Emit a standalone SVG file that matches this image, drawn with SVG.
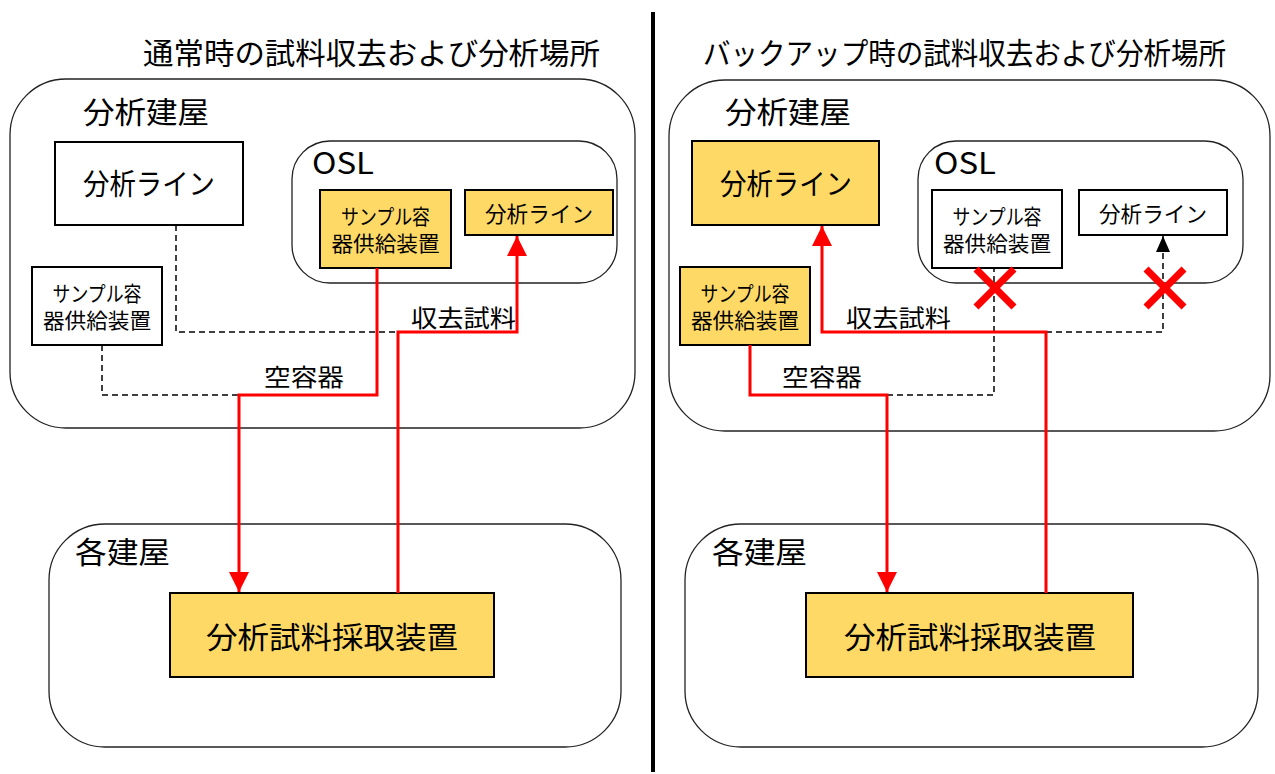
<svg xmlns="http://www.w3.org/2000/svg" width="1275" height="774" viewBox="0 0 1275 774">
<style>
text{font-family:"Noto Sans CJK JP","Noto Sans",sans-serif;fill:#000}
.area{fill:#fff;stroke:#222;stroke-width:1.3}
.box{fill:#fff;stroke:#000;stroke-width:2}
.yel{fill:#FFD966;stroke:#000;stroke-width:2}
.red{fill:none;stroke:#FF0000;stroke-width:3}
.dash{fill:none;stroke:#000;stroke-width:1.5;stroke-dasharray:6 4}
.cross{stroke:#FF0000;stroke-width:7}
.t30{font-size:30px}
.t29{font-size:29px}
.t24{font-size:24px}
.t22{font-size:22px}
.t21{font-size:21px}
</style>
<defs>
<marker id="ar" markerUnits="userSpaceOnUse" markerWidth="22" markerHeight="20" refX="20" refY="10" orient="auto">
<path d="M0,0 L20,10 L0,20 Z" fill="#FF0000"/>
</marker>
<marker id="ab" markerUnits="userSpaceOnUse" markerWidth="18" markerHeight="14" refX="16" refY="7" orient="auto">
<path d="M0,0 L16,7 L0,14 Z" fill="#000"/>
</marker>
</defs>
<rect width="1275" height="774" fill="#fff"/>

<line id="divider" x1="653" y1="12" x2="653" y2="772" stroke="#000" stroke-width="4"/>

<g id="title-left"><text class="t30" x="143" y="64" textLength="457" lengthAdjust="spacingAndGlyphs">通常時の試料収去および分析場所</text></g>
<g id="title-right"><text class="t30" x="703" y="64" textLength="523" lengthAdjust="spacingAndGlyphs">バックアップ時の試料収去および分析場所</text></g>

<!-- LEFT PANEL -->
<g id="L-analysis-bldg">
<rect class="area" x="10" y="79" width="625" height="349" rx="56"/>
<text class="t30" x="83" y="123" textLength="126" lengthAdjust="spacingAndGlyphs">分析建屋</text>
</g>
<g id="L-osl">
<rect class="area" x="292" y="141" width="325" height="142" rx="38"/>
<text class="t30" x="312" y="174" textLength="62" lengthAdjust="spacingAndGlyphs">OSL</text>
</g>
<g id="L-line-main">
<rect class="box" x="55" y="142" width="188" height="83"/>
<text class="t29" x="149" y="195" text-anchor="middle" textLength="132" lengthAdjust="spacingAndGlyphs">分析ライン</text>
</g>
<g id="L-supply-osl">
<rect class="yel" x="320" y="190" width="131" height="78"/>
<text class="t21" x="385.5" y="224" text-anchor="middle" textLength="89" lengthAdjust="spacingAndGlyphs">サンプル容</text>
<text class="t21" x="385.5" y="251" text-anchor="middle" textLength="108" lengthAdjust="spacingAndGlyphs">器供給装置</text>
</g>
<g id="L-line-osl">
<rect class="yel" x="465" y="190" width="148" height="45"/>
<text class="t22" x="539" y="222" text-anchor="middle" textLength="108" lengthAdjust="spacingAndGlyphs">分析ライン</text>
</g>
<g id="L-supply-main">
<rect class="box" x="32" y="267" width="130" height="78"/>
<text class="t21" x="97" y="301" text-anchor="middle" textLength="89" lengthAdjust="spacingAndGlyphs">サンプル容</text>
<text class="t21" x="97" y="328" text-anchor="middle" textLength="108" lengthAdjust="spacingAndGlyphs">器供給装置</text>
</g>
<g id="L-each-bldg">
<rect class="area" x="49" y="524" width="572" height="223" rx="56"/>
<text class="t30" x="75" y="563" textLength="95" lengthAdjust="spacingAndGlyphs">各建屋</text>
</g>
<g id="L-sampler">
<rect class="yel" x="170" y="593" width="324" height="84"/>
<text class="t30" x="332" y="648" text-anchor="middle" textLength="252" lengthAdjust="spacingAndGlyphs">分析試料採取装置</text>
</g>

<!-- RIGHT PANEL -->
<g id="R-analysis-bldg">
<rect class="area" x="669" y="80" width="601" height="351" rx="56"/>
<text class="t30" x="725" y="123" textLength="126" lengthAdjust="spacingAndGlyphs">分析建屋</text>
</g>
<g id="R-osl">
<rect class="area" x="918" y="141" width="325" height="142" rx="38"/>
<text class="t30" x="934" y="174" textLength="62" lengthAdjust="spacingAndGlyphs">OSL</text>
</g>
<g id="R-line-main">
<rect class="yel" x="692" y="141" width="187" height="84"/>
<text class="t29" x="786" y="195" text-anchor="middle" textLength="132" lengthAdjust="spacingAndGlyphs">分析ライン</text>
</g>
<g id="R-supply-osl">
<rect class="box" x="932" y="190" width="130" height="78"/>
<text class="t21" x="997" y="224" text-anchor="middle" textLength="89" lengthAdjust="spacingAndGlyphs">サンプル容</text>
<text class="t21" x="997" y="251" text-anchor="middle" textLength="108" lengthAdjust="spacingAndGlyphs">器供給装置</text>
</g>
<g id="R-line-osl">
<rect class="box" x="1079" y="190" width="148" height="45"/>
<text class="t22" x="1153" y="222" text-anchor="middle" textLength="108" lengthAdjust="spacingAndGlyphs">分析ライン</text>
</g>
<g id="R-supply-main">
<rect class="yel" x="680" y="267" width="130" height="78"/>
<text class="t21" x="745" y="301" text-anchor="middle" textLength="89" lengthAdjust="spacingAndGlyphs">サンプル容</text>
<text class="t21" x="745" y="328" text-anchor="middle" textLength="108" lengthAdjust="spacingAndGlyphs">器供給装置</text>
</g>
<g id="R-each-bldg">
<rect class="area" x="685" y="524" width="573" height="223" rx="56"/>
<text class="t30" x="712" y="563" textLength="95" lengthAdjust="spacingAndGlyphs">各建屋</text>
</g>
<g id="R-sampler">
<rect class="yel" x="806" y="593" width="327" height="84"/>
<text class="t30" x="970" y="648" text-anchor="middle" textLength="252" lengthAdjust="spacingAndGlyphs">分析試料採取装置</text>
</g>

<g id="connectors">
<!-- left -->
<path class="dash" d="M176,225 V332 H398"/>
<path class="dash" d="M102,345 V395 H239"/>
<path class="red" d="M377,268 V395 H239 V592" marker-end="url(#ar)"/>
<path class="red" d="M398,593 V332 H517 V236" marker-end="url(#ar)"/>
<text class="t24" x="411" y="327" textLength="105" lengthAdjust="spacingAndGlyphs">収去試料</text>
<text class="t24" x="264" y="386" textLength="80" lengthAdjust="spacingAndGlyphs">空容器</text>
<!-- right -->
<path class="dash" d="M887,395 H994 V268"/>
<path class="dash" d="M1046,332 H1163 V236" marker-end="url(#ab)"/>
<path class="red" d="M750,345 V395 H887 V592" marker-end="url(#ar)"/>
<path class="red" d="M1046,593 V332 H822 V226" marker-end="url(#ar)"/>
<text class="t24" x="846" y="327" textLength="105" lengthAdjust="spacingAndGlyphs">収去試料</text>
<text class="t24" x="782" y="386" textLength="80" lengthAdjust="spacingAndGlyphs">空容器</text>
<g id="cross1"><line class="cross" x1="976" y1="269" x2="1014" y2="307"/><line class="cross" x1="1014" y1="269" x2="976" y2="307"/></g>
<g id="cross2"><line class="cross" x1="1146" y1="269" x2="1184" y2="307"/><line class="cross" x1="1184" y1="269" x2="1146" y2="307"/></g>
</g>
</svg>
